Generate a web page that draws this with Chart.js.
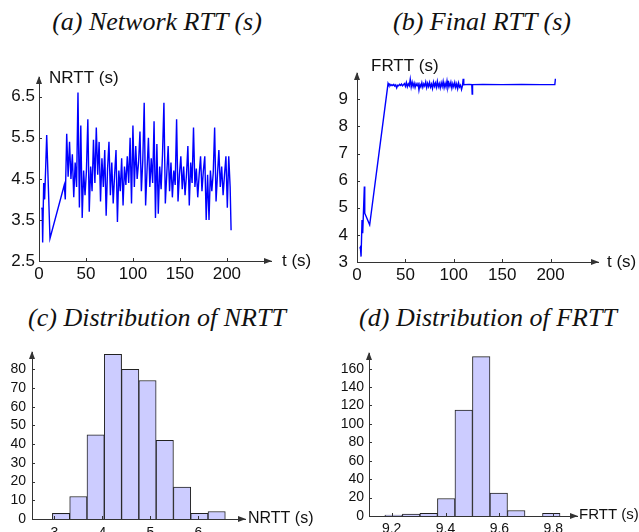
<!DOCTYPE html>
<html>
<head>
<meta charset="utf-8">
<script src="https://cdn.jsdelivr.net/npm/chart.js@4.4.1/dist/chart.umd.min.js"></script>
<style>
html, body { margin:0; padding:0; background:#fff; width:639px; height:532px; overflow:hidden; }
.ttl { position:absolute; font-family:"Liberation Serif","DejaVu Serif",serif; font-style:italic;
       font-size:26px; line-height:26px; color:#111; white-space:nowrap; transform:translateX(-50%); }
canvas { position:absolute; }
</style>
</head>
<body>
<div class="ttl" style="left:157px;top:9px">(a) Network RTT (s)</div>
<div class="ttl" style="left:482px;top:9px">(b) Final RTT (s)</div>
<div class="ttl" style="left:157px;top:305px">(c) Distribution of NRTT</div>
<div class="ttl" style="left:488px;top:305px">(d) Distribution of FRTT</div>

<canvas id="cA" width="320" height="240" style="left:0;top:55px"></canvas>
<canvas id="cB" width="320" height="240" style="left:320px;top:50px"></canvas>
<canvas id="cC" width="320" height="220" style="left:0;top:330px"></canvas>
<canvas id="cD" width="320" height="220" style="left:320px;top:330px"></canvas>

<script>
'use strict';

// ── (a) network RTT samples: time (s) / NRTT (s) ──
const nrttT = [2.9, 3.4, 3.9, 5.0, 6.0, 7.0, 8.2, 11.7, 26.9,
  28, 29.5, 31, 32.5, 34, 35.5, 37, 38.5, 40, 41.5, 43, 44.5, 46, 47.5, 49, 50.5, 52, 53.5, 55, 56.5,
  58, 59.5, 61, 62.5, 64, 65.5, 67, 68.5, 70, 71.5, 73, 74.5, 76, 77.5, 79, 80.5, 82, 83.5, 85, 86.5,
  88, 89.5, 91, 92.5, 94, 95.5, 97, 98.5, 100, 101.5, 103, 104.5, 106, 107.5, 109, 110.5, 112, 113.5,
  115, 116.5, 118, 119.5, 121, 122.5, 124, 125.5, 127, 128.5, 130, 131.5, 133, 134.5, 136, 137.5,
  139, 140.5, 142, 143.5, 145, 146.5, 148, 149.5, 151, 152.5, 154, 155.5, 157, 158.5, 160, 161.5,
  163, 164.5, 166, 167.5, 169, 170.5, 172, 173.5, 175, 176.5, 178, 179.5, 181, 182.5, 184, 185.5,
  187, 188.5, 190, 191.5, 193, 194.5, 196, 197.5, 199, 200.5, 202, 203.5, 204.5];
const nrttV = [3.80, 3.75, 2.95, 4.40, 4.00, 4.70, 5.57, 3.05, 4.35,
  4.00, 5.60, 4.55, 5.40, 4.50, 5.10, 4.05, 4.90, 4.30, 6.60, 3.80, 5.80, 3.55, 4.70, 4.10, 4.70, 5.95, 3.70, 4.80, 4.20,
  5.45, 4.40, 5.75, 4.60, 5.40, 3.95, 5.00, 4.30, 5.20, 3.60, 4.75, 5.40, 4.10, 4.90, 3.90, 4.60, 5.20, 3.45, 4.70, 4.20,
  5.00, 3.85, 4.80, 4.35, 5.05, 4.40, 5.50, 3.90, 5.80, 4.30, 5.30, 4.50, 4.90, 5.65, 4.20, 4.95, 6.35, 3.85,
  4.70, 5.50, 4.30, 5.00, 4.40, 5.90, 3.55, 5.35, 3.65, 4.80, 4.25, 5.10, 6.35, 3.90, 4.60, 5.30,
  4.20, 4.90, 4.05, 4.70, 4.35, 5.95, 3.95, 4.60, 5.05, 4.25, 4.80, 4.10, 4.60, 5.30, 3.85, 4.90,
  4.40, 5.75, 4.30, 4.75, 4.05, 4.60, 5.05, 4.20, 4.70, 5.05, 3.50, 4.60, 3.50, 4.70, 4.20, 4.65,
  5.75, 3.95, 4.60, 5.20, 4.30, 4.80, 4.10, 4.60, 5.05, 3.80, 5.05, 4.30, 3.25];

// ── (b) final RTT samples ──
const frttT = [2.8, 3.5, 4.2, 5.2, 5.9, 7.6, 8.0, 13.1, 32.1,
  33, 34, 35, 36, 37, 38, 39, 40, 41, 42, 43, 44, 45, 46, 47, 48, 49, 50, 51, 52,
  53, 54, 55, 56, 57, 58, 59, 60, 61, 62, 63, 64, 65, 66, 67, 68, 69, 70, 71, 72,
  73, 74, 75, 76, 77, 78, 79, 80, 81, 82, 83, 84, 85, 86, 87, 88, 89, 90, 91, 92,
  93, 94, 95, 96, 97, 98, 99, 100, 101, 102, 103, 104, 105, 106, 107, 108, 109,
  109.7, 110.3, 116, 118.6, 119, 119.4, 130, 150, 170, 190, 204.4, 205];
const frttV = [3.50, 3.55, 3.20, 4.55, 4.06, 5.78, 4.80, 4.37, 9.59,
  9.52, 9.55, 9.50, 9.54, 9.51, 9.55, 9.49, 9.53, 9.42, 9.52, 9.50, 9.55, 9.51, 9.56, 9.50, 9.54, 9.58, 9.48, 9.62, 9.46,
  9.57, 9.50, 9.74, 9.45, 9.63, 9.47, 9.60, 9.44, 9.58, 9.50, 9.62, 9.34, 9.55, 9.46, 9.61, 9.44, 9.57, 9.49, 9.64, 9.43,
  9.59, 9.47, 9.62, 9.45, 9.56, 9.40, 9.63, 9.48, 9.60, 9.44, 9.66, 9.46, 9.58, 9.42, 9.61, 9.47, 9.66, 9.43, 9.59, 9.45,
  9.68, 9.44, 9.60, 9.48, 9.63, 9.41, 9.58, 9.46, 9.62, 9.44, 9.57, 9.39, 9.60, 9.45, 9.52, 9.36, 9.50,
  9.76, 9.54, 9.55, 9.54, 9.19, 9.54, 9.55, 9.54, 9.55, 9.54, 9.54, 9.76];

// ── (c) histogram of NRTT: bin centres / counts ──
const nrttBins   = [3.14, 3.50, 3.86, 4.22, 4.58, 4.94, 5.30, 5.66, 6.02, 6.38];
const nrttCounts = [3, 12, 45, 88, 80, 74, 42, 17, 3, 4];

// ── (d) histogram of FRTT ──
const frttBins   = [9.2075, 9.2725, 9.3375, 9.4025, 9.4675, 9.5325, 9.5975, 9.6625, 9.7275, 9.7925];
const frttCounts = [1, 2, 3, 19, 115, 173, 25, 6, 0, 3];

// ── tick labels ──
const ticksTime  = [0, 50, 100, 150, 200];
const ticksNrttY = [2.5, 3.5, 4.5, 5.5, 6.5];
const ticksFrttY = [3, 4, 5, 6, 7, 8, 9];
const ticksNrttX = [3, 4, 5, 6];
const ticksNrttC = [0, 10, 20, 30, 40, 50, 60, 70, 80];
const ticksFrttX = [9.2, 9.4, 9.6, 9.8];
const ticksFrttC = [0, 20, 40, 60, 80, 100, 120, 140, 160];

const SANS = '"Liberation Sans", Arial, sans-serif';
const AXIS = '#333';

// arrows, inward tick marks and axis names
const axisDeco = {
    id: 'axisDeco',
    afterDraw(chart, args, o) {
        const { ctx, chartArea: a, scales } = chart;
        ctx.save();
        ctx.strokeStyle = AXIS; ctx.fillStyle = AXIS; ctx.lineWidth = 1;
        ctx.beginPath();
        scales.x.ticks.forEach(t => {
            const px = Math.round(scales.x.getPixelForValue(t.value)) + 0.5;
            ctx.moveTo(px, a.bottom); ctx.lineTo(px, a.bottom - 3);
        });
        scales.y.ticks.forEach(t => {
            const py = Math.round(scales.y.getPixelForValue(t.value)) + 0.5;
            ctx.moveTo(a.left, py); ctx.lineTo(a.left + 3, py);
        });
        ctx.stroke();
        // arrow heads
        ctx.beginPath();
        ctx.moveTo(a.right + 1, a.bottom); ctx.lineTo(a.right - 7, a.bottom - 3); ctx.lineTo(a.right - 7, a.bottom + 3);
        ctx.closePath();
        ctx.moveTo(a.left, a.top - 1); ctx.lineTo(a.left - 3, a.top + 7); ctx.lineTo(a.left + 3, a.top + 7);
        ctx.closePath();
        ctx.fill();
        // axis names
        ctx.fillStyle = '#111';
        ctx.font = o.size + 'px ' + SANS;
        ctx.textBaseline = 'middle'; ctx.textAlign = 'left';
        ctx.fillText(o.xName, a.right + o.xdx, a.bottom + o.xdy);
        ctx.fillText(o.yName, a.left + o.ydx, a.top + o.ydy);
        ctx.restore();
    }
};

function scalesFor(o) {
    return {
        x: {
            type: 'linear', min: o.xMin, max: o.xMax, offset: false,
            grid: { display: false, drawTicks: false, offset: false },
            border: { display: true, color: AXIS, width: 1 },
            afterBuildTicks: s => { s.ticks = o.xTicks.map(v => ({ value: v })); },
            afterFit: s => { s.height = o.xH; },
            ticks: { padding: o.xPad, color: '#111', autoSkip: false, maxRotation: 0,
                     font: { family: SANS, size: o.fs }, callback: v => String(v) }
        },
        y: {
            type: 'linear', min: o.yMin, max: o.yMax,
            grid: { display: false, drawTicks: false },
            border: { display: true, color: AXIS, width: 1 },
            afterBuildTicks: s => { s.ticks = o.yTicks.map(v => ({ value: v })); },
            afterFit: s => { s.width = o.yW; },
            ticks: { padding: o.yPad, color: '#111', autoSkip: false,
                     font: { family: SANS, size: o.fs }, callback: v => String(v) }
        }
    };
}

function commonOpts(o) {
    return {
        responsive: false, animation: false,
        layout: { padding: { left: 0, top: o.padTop, right: o.padRight, bottom: 0 } },
        plugins: { legend: { display: false }, tooltip: { enabled: false }, axisDeco: o.deco },
        scales: scalesFor(o)
    };
}

function lineChart(id, xs, ys, o) {
    return new Chart(document.getElementById(id), {
        type: 'line',
        data: { datasets: [{ data: xs.map((x, i) => ({ x, y: ys[i] })),
            borderColor: '#0000ff', borderWidth: 1.4, pointRadius: 0, tension: 0, fill: false }] },
        options: commonOpts(o),
        plugins: [axisDeco]
    });
}

function histChart(id, bins, counts, o) {
    return new Chart(document.getElementById(id), {
        type: 'bar',
        data: { datasets: [{ data: bins.map((x, i) => ({ x, y: counts[i] })),
            backgroundColor: '#ccccff', borderColor: '#222', borderWidth: 1,
            barPercentage: 1, categoryPercentage: 1 }] },
        options: commonOpts(o),
        plugins: [axisDeco]
    });
}

lineChart('cA', nrttT, nrttV, {
    xMin: 0, xMax: 247, yMin: 2.5, yMax: 6.98, xTicks: ticksTime, yTicks: ticksNrttY,
    padTop: 22, padRight: 49, xH: 34, yW: 39, xPad: 3, yPad: 4, fs: 17,
    deco: { xName: 't (s)', yName: 'NRTT (s)', size: 17, xdx: 11, xdy: 0, ydx: 10, ydy: 1 }
});

lineChart('cB', frttT, frttV, {
    xMin: 0, xMax: 249, yMin: 3, yMax: 9.97, xTicks: ticksTime, yTicks: ticksFrttY,
    padTop: 23, padRight: 42, xH: 28, yW: 37, xPad: 3, yPad: 9, fs: 17,
    deco: { xName: 't (s)', yName: 'FRTT (s)', size: 17, xdx: 9, xdy: 0, ydx: 14, ydy: -7 }
});

histChart('cC', nrttBins, nrttCounts, {
    xMin: 2.535, xMax: 6.97, yMin: 0, yMax: 89.2, xTicks: ticksNrttX, yTicks: ticksNrttC,
    padTop: 22, padRight: 75, xH: 31, yW: 32, xPad: 6, yPad: 6, fs: 14,
    deco: { xName: 'NRTT (s)', yName: '', size: 16, xdx: 3, xdy: 0, ydx: 0, ydy: 0 }
});

histChart('cD', frttBins, frttCounts, {
    xMin: 9.116, xMax: 9.888, yMin: 0, yMax: 177, xTicks: ticksFrttX, yTicks: ticksFrttC,
    padTop: 23, padRight: 63, xH: 34, yW: 49, xPad: 5, yPad: 5, fs: 14,
    deco: { xName: 'FRTT (s)', yName: '', size: 15, xdx: 2, xdy: -1, ydx: 0, ydy: 0 }
});
</script>
</body>
</html>
